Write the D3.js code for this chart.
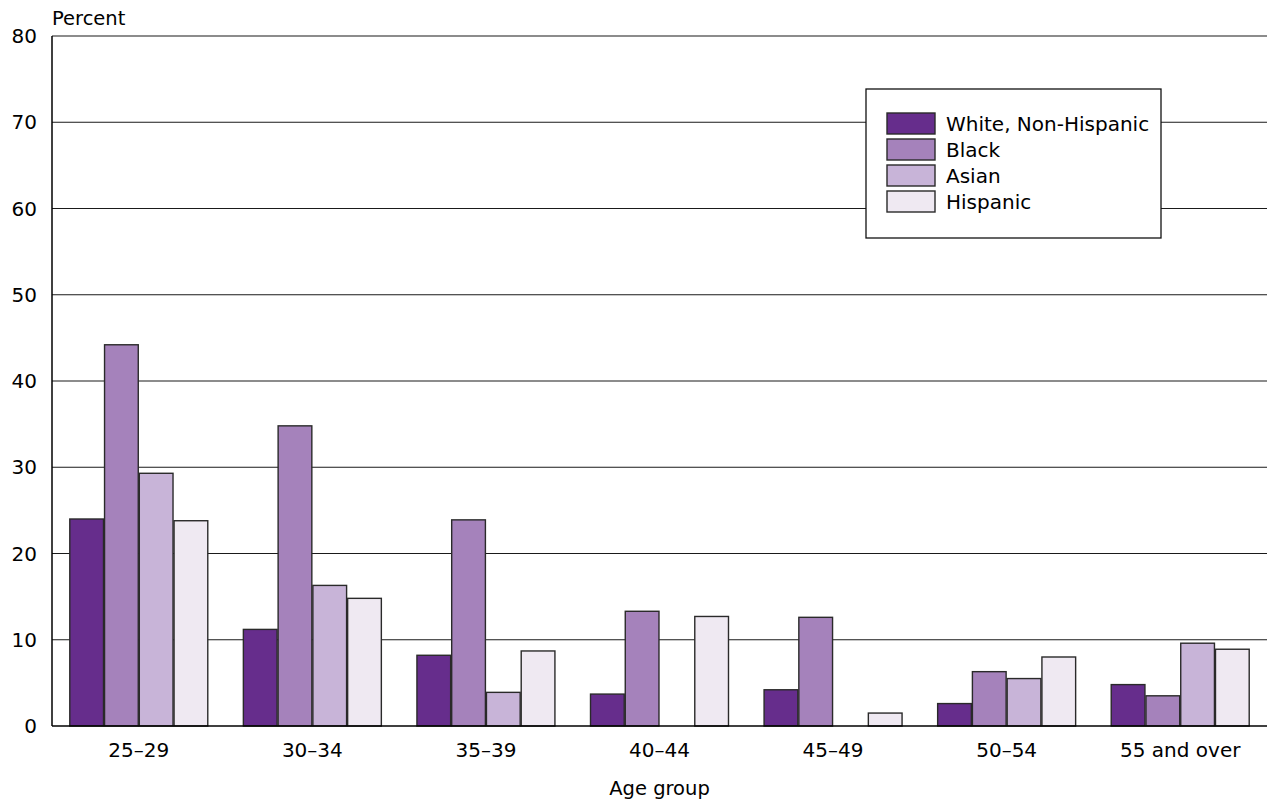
<!DOCTYPE html>
<html>
<head>
<meta charset="utf-8">
<script src="https://cdn.jsdelivr.net/npm/d3@7"></script>
<style>
  body { margin: 0; background: #fff; }
  text { font-family: "DejaVu Sans", sans-serif; fill: #000; }
</style>
</head>
<body>
<svg width="1267" height="800"></svg>
<script>
const ageGroups = ['25–29', '30–34', '35–39', '40–44', '45–49', '50–54', '55 and over'];
const seriesNames = ['White, Non-Hispanic', 'Black', 'Asian', 'Hispanic'];
const whiteVals = [24.0, 11.2, 8.2, 3.7, 4.2, 2.6, 4.8];
const blackVals = [44.2, 34.8, 23.9, 13.3, 12.6, 6.3, 3.5];
const asianVals = [29.3, 16.3, 3.9, 0, 0, 5.5, 9.6];
const hispanicVals = [23.8, 14.8, 8.7, 12.7, 1.5, 8.0, 8.9];
const yTicks = [0, 10, 20, 30, 40, 50, 60, 70, 80];
const colors = ['#662d8c', '#a582bb', '#c8b4d8', '#efe9f2'];

const allVals = [whiteVals, blackVals, asianVals, hispanicVals];

const svg = d3.select('svg');
const plotL = 52, plotR = 1267, plotT = 36, plotB = 726;

const y = d3.scaleLinear().domain([0, 80]).range([plotB, plotT]);
const x0 = d3.scaleBand().domain(ageGroups).range([plotL, plotR])
    .paddingInner(0.205).paddingOuter(0.1025);
const x1 = d3.scaleBand().domain(seriesNames).range([0, x0.bandwidth()]).paddingInner(0.03);
const color = d3.scaleOrdinal().domain(seriesNames).range(colors);

// gridlines
svg.append('g').selectAll('line')
    .data(yTicks.filter(d => d > 0))
    .join('line')
    .attr('x1', plotL).attr('x2', plotR)
    .attr('y1', d => y(d)).attr('y2', d => y(d))
    .attr('stroke', '#1a1a1a').attr('stroke-width', 1.2);

// y axis labels
svg.append('g').selectAll('text')
    .data(yTicks)
    .join('text')
    .attr('x', 37).attr('y', d => y(d))
    .attr('dy', '0.36em')
    .attr('text-anchor', 'end')
    .attr('font-size', 20)
    .text(d => d);

svg.append('text').attr('x', plotL).attr('y', 25).attr('font-size', 19.5).text('Percent');

// bars
const groups = svg.append('g').selectAll('g')
    .data(ageGroups)
    .join('g')
    .attr('transform', d => `translate(${x0(d)},0)`);

groups.selectAll('rect')
    .data((d, i) => seriesNames.map((s, j) => ({ s, v: allVals[j][i] })).filter(e => e.v > 0))
    .join('rect')
    .attr('x', d => x1(d.s))
    .attr('width', x1.bandwidth())
    .attr('y', d => y(d.v))
    .attr('height', d => y(0) - y(d.v))
    .attr('fill', d => color(d.s))
    .attr('stroke', '#2a2a2a').attr('stroke-width', 1.4);

// frame: left, baseline
svg.append('line').attr('x1', plotL).attr('x2', plotL).attr('y1', plotT).attr('y2', plotB)
    .attr('stroke', '#000').attr('stroke-width', 1.5);
svg.append('line').attr('x1', plotL).attr('x2', plotR).attr('y1', y(0)).attr('y2', y(0))
    .attr('stroke', '#000').attr('stroke-width', 1.5);

// x labels
svg.append('g').selectAll('text')
    .data(ageGroups)
    .join('text')
    .attr('x', d => x0(d) + x0.bandwidth() / 2)
    .attr('y', 757)
    .attr('text-anchor', 'middle')
    .attr('font-size', 20)
    .text(d => d);

svg.append('text').attr('x', (plotL + plotR) / 2).attr('y', 795)
    .attr('text-anchor', 'middle').attr('font-size', 19.5).text('Age group');

// legend
const lg = svg.append('g').attr('transform', 'translate(866,89)');
lg.append('rect').attr('width', 295).attr('height', 149)
    .attr('fill', '#fff').attr('stroke', '#111').attr('stroke-width', 1.3);
const items = lg.selectAll('g.item')
    .data(seriesNames)
    .join('g')
    .attr('class', 'item')
    .attr('transform', (d, i) => `translate(21,${24 + i * 26})`);
items.append('rect').attr('width', 48).attr('height', 21)
    .attr('fill', d => color(d)).attr('stroke', '#2a2a2a').attr('stroke-width', 1.4);
items.append('text').attr('x', 59).attr('y', 10.5).attr('dy', '0.36em')
    .attr('font-size', 20).text(d => d);
</script>
</body>
</html>
